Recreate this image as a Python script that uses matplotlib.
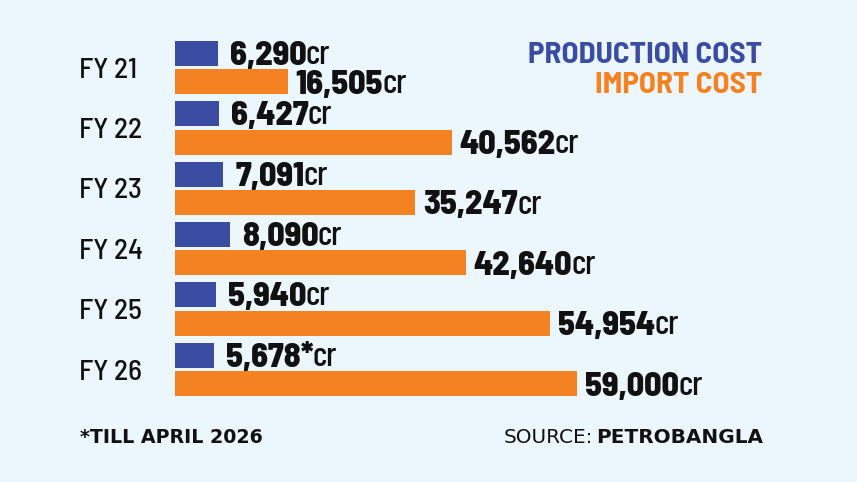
import matplotlib
matplotlib.use("Agg")
import matplotlib.pyplot as plt
import matplotlib.transforms as mtransforms

categories = ["FY 21", "FY 22", "FY 23", "FY 24", "FY 25", "FY 26"]
production = [6290, 6427, 7091, 8090, 5940, 5678]
imports = [16505, 40562, 35247, 42640, 54954, 59000]
prod_labels = ["6,290", "6,427", "7,091", "8,090", "5,940", "5,678*"]
imp_labels = ["16,505", "40,562", "35,247", "42,640", "54,954", "59,000"]

BG = "#EBF6FD"
BLUE = "#3A4DA2"
ORANGE = "#F58220"
INK = "#111111"

COND = ["Barlow Condensed", "Roboto Condensed", "DejaVu Sans"]
SEMI = ["Barlow Semi Condensed", "Barlow Condensed", "DejaVu Sans"]

W, H = 857, 482
fig = plt.figure(figsize=(W / 100, H / 100), dpi=100, facecolor=BG)

left_px = 175
ax = fig.add_axes([left_px / W, 0, 1 - left_px / W, 1])
ax.set_facecolor(BG)
ax.axis("off")
ax.set_xlim(0, 100000)
unit = 60.4
ax.set_ylim((H - 67.5) / unit, -67.5 / unit)

off = 14.2 / unit
bh = 25 / unit
ys = list(range(len(categories)))
ax.barh([y - off for y in ys], production, height=bh, color=BLUE)
ax.barh([y + off for y in ys], imports, height=bh, color=ORANGE)

fs_num = 24.5


def value_label(x, ybase, num, gap_px):
    t = ax.annotate(num, xy=(x, ybase), xytext=(gap_px * 0.72, 0), textcoords="offset points",
                    ha="left", va="baseline", fontsize=fs_num, fontweight=800,
                    family=SEMI, color=INK)
    ax.annotate("cr", xy=(1, 0), xycoords=t, xytext=(-0.6, 0), textcoords="offset points",
                ha="left", va="bottom", fontsize=fs_num, fontweight=500, family=COND, color=INK)


for i in ys:
    value_label(production[i], i - off + bh / 2 - 1 / unit, prod_labels[i], 12)
    value_label(imports[i], i + off + bh / 2 - 0.5 / unit, imp_labels[i], 8)

trans = mtransforms.blended_transform_factory(fig.transFigure, ax.transData)
for i, c in enumerate(categories):
    ax.text(79 / W, i + 10 / unit, c, transform=trans, ha="left", va="baseline",
            fontsize=21, fontweight=500, family=SEMI, color=INK)

fig.text(762 / W, 1 - 63 / H, "PRODUCTION COST", ha="right", va="baseline",
         fontsize=22.5, fontweight=700, family=SEMI, color=BLUE)
fig.text(762 / W, 1 - 93 / H, "IMPORT COST", ha="right", va="baseline",
         fontsize=22.5, fontweight=700, family=SEMI, color=ORANGE)

fig.text(80 / W, 1 - 443 / H, "*TILL APRIL 2026", ha="left", va="baseline",
         fontsize=13.7, fontweight="bold", family="DejaVu Sans", color=INK)
src = fig.text(763 / W, 1 - 443 / H, "PETROBANGLA", ha="right", va="baseline",
               fontsize=14.4, fontweight="bold", family="DejaVu Sans", color=INK)
ax.annotate("SOURCE:", xy=(0, 0), xycoords=src, xytext=(-2, 0), textcoords="offset points",
            ha="right", va="bottom",
            fontsize=14.4, family="DejaVu Sans", color=INK, annotation_clip=False)

fig.savefig("out.png", dpi=100, facecolor=BG)
